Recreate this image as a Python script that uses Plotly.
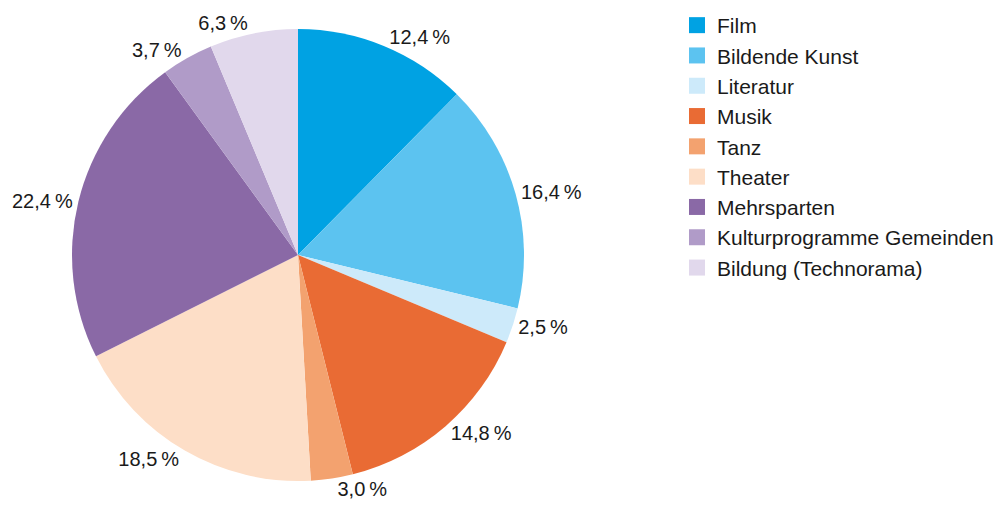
import plotly.graph_objects as go

categories = ["Film", "Bildende Kunst", "Literatur", "Musik", "Tanz", "Theater",
              "Mehrsparten", "Kulturprogramme Gemeinden", "Bildung (Technorama)"]
values = [12.4, 16.4, 2.5, 14.8, 3.0, 18.5, 22.4, 3.7, 6.3]
colors = ["#00A2E3", "#5CC3F0", "#CDEAFA", "#E96B34", "#F3A26F", "#FDDEC7",
          "#8A69A6", "#B09BC8", "#E1D8EC"]
labels_text = [f"{v:.1f}".replace(".", ",") + "\u2009%" for v in values]

W, H = 1002, 507
OFF = 8  # page body margin
cx, cy, r = 298 - OFF, 255 - OFF, 226
fig = go.Figure()
fig.add_trace(go.Pie(
    labels=categories, values=values, text=labels_text,
    textinfo="text", textposition="outside",
    marker=dict(colors=colors, line=dict(width=0)),
    sort=False, direction="clockwise", rotation=0,
    domain=dict(x=[(cx - r) / W, (cx + r) / W], y=[1 - (cy + r) / H, 1 - (cy - r) / H]),
    outsidetextfont=dict(size=20, color="#1a1a1a"),
    showlegend=False,
))
# legend entries with larger square swatches
for cat, col in zip(categories, colors):
    fig.add_trace(go.Scatter(
        x=[None], y=[None], mode="markers", name=cat,
        marker=dict(symbol="square", size=17, color=col),
        showlegend=True, hoverinfo="skip",
    ))
fig.update_layout(
    width=W, height=H,
    margin=dict(l=0, r=0, t=0, b=0, autoexpand=False),
    paper_bgcolor="white", plot_bgcolor="white",
    xaxis=dict(visible=False), yaxis=dict(visible=False),
    font=dict(family="Liberation Sans, Arial, sans-serif", color="#1a1a1a"),
    legend=dict(x=669 / W, y=1 + 3 / H, xanchor="left", yanchor="top",
                font=dict(size=21), tracegroupgap=0, itemwidth=30,
                itemsizing="trace", maxheight=600),
)
fig.write_html("out.html")
